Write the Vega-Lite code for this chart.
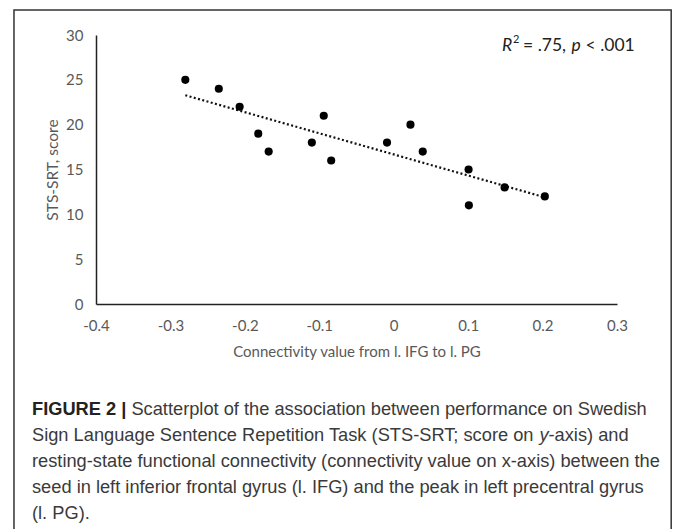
{
  "$schema": "https://vega.github.io/schema/vega-lite/v6.json",
  "width": 521,
  "height": 269,
  "autosize": {"type": "none"},
  "padding": {"left": 96, "top": 35, "right": 56, "bottom": 225},
  "background": "white",
  "config": {"view": {"stroke": null}, "font": "Lato"},
  "datasets": {
    "pts": [
      {"connectivity": -0.280, "score": 25},
      {"connectivity": -0.235, "score": 24},
      {"connectivity": -0.207, "score": 22},
      {"connectivity": -0.182, "score": 19},
      {"connectivity": -0.168, "score": 17},
      {"connectivity": -0.110, "score": 18},
      {"connectivity": -0.094, "score": 21},
      {"connectivity": -0.084, "score": 16},
      {"connectivity": -0.009, "score": 18},
      {"connectivity": 0.0225, "score": 20},
      {"connectivity": 0.039, "score": 17},
      {"connectivity": 0.1006, "score": 15},
      {"connectivity": 0.101, "score": 11},
      {"connectivity": 0.149, "score": 13},
      {"connectivity": 0.203, "score": 12}
    ]
  },
  "layer": [
    {
      "data": {"values": [{}]},
      "mark": {"type": "rect", "fillOpacity": 0, "stroke": "#333333", "strokeWidth": 1.5, "clip": false},
      "encoding": {
        "x": {"datum": -0.5102, "type": "quantitative", "title": "Connectivity value from l. IFG to l. PG"},
        "x2": {"datum": 0.3728},
        "y": {"datum": 32.79, "type": "quantitative", "title": "STS-SRT, score"},
        "y2": {"datum": -30}
      }
    },
    {
      "data": {"name": "pts"},
      "transform": [{"regression": "score", "on": "connectivity"}],
      "mark": {"type": "line", "color": "#111111", "strokeWidth": 2.2, "strokeDash": [2, 2.4]},
      "encoding": {
        "x": {"field": "connectivity", "type": "quantitative", "title": "Connectivity value from l. IFG to l. PG"},
        "y": {"field": "score", "type": "quantitative", "title": "STS-SRT, score"}
      }
    },
    {
      "data": {"name": "pts"},
      "mark": {"type": "circle", "size": 66, "color": "#000000", "opacity": 1},
      "encoding": {
        "x": {
          "field": "connectivity",
          "type": "quantitative",
          "title": "Connectivity value from l. IFG to l. PG",
          "scale": {"domain": [-0.4, 0.3], "nice": false, "zero": false},
          "axis": {
            "values": [-0.4, -0.3, -0.2, -0.1, 0, 0.1, 0.2, 0.3],
            "labelExpr": "toString(round(datum.value*10)/10)",
            "ticks": false,
            "grid": false,
            "domainColor": "#222222",
            "domainWidth": 1.5,
            "labelFont": "Lato",
            "labelFontSize": 15,
            "labelColor": "#595959",
            "labelPadding": 14,
            "labelFlush": false,
            "labelOverlap": false,
            "titleFont": "Lato",
            "titleFontSize": 15,
            "titleFontWeight": "normal",
            "titleColor": "#595959",
            "titlePadding": 11
          }
        },
        "y": {
          "field": "score",
          "type": "quantitative",
          "title": "STS-SRT, score",
          "scale": {"domain": [0, 30], "nice": false},
          "axis": {
            "values": [0, 5, 10, 15, 20, 25, 30],
            "ticks": false,
            "grid": false,
            "domainColor": "#222222",
            "domainWidth": 1.5,
            "labelFont": "Lato",
            "labelFontSize": 15,
            "labelColor": "#595959",
            "labelPadding": 13,
            "labelFlush": false,
            "labelOverlap": false,
            "titleFont": "Lato",
            "titleFontSize": 15.5,
            "titleFontWeight": "normal",
            "titleColor": "#595959",
            "titlePadding": 5
          }
        }
      }
    },
    {
      "data": {"values": [{}]},
      "mark": {"type": "text", "text": "R", "font": "Lato", "fontSize": 17.5, "fontStyle": "italic", "color": "#222222", "align": "left", "baseline": "middle", "dx": 0},
      "encoding": {"x": {"datum": 0.1455, "type": "quantitative"}, "y": {"datum": 28.77, "type": "quantitative"}}
    },
    {
      "data": {"values": [{}]},
      "mark": {"type": "text", "text": "2", "font": "Lato", "fontSize": 11, "color": "#222222", "align": "left", "baseline": "middle", "dx": 11, "dy": -6},
      "encoding": {"x": {"datum": 0.1455, "type": "quantitative"}, "y": {"datum": 28.77, "type": "quantitative"}}
    },
    {
      "data": {"values": [{}]},
      "mark": {"type": "text", "text": "= .75,", "font": "Lato", "fontSize": 17.5, "color": "#222222", "align": "left", "baseline": "middle", "dx": 21},
      "encoding": {"x": {"datum": 0.1455, "type": "quantitative"}, "y": {"datum": 28.77, "type": "quantitative"}}
    },
    {
      "data": {"values": [{}]},
      "mark": {"type": "text", "text": "p", "font": "Lato", "fontSize": 17.5, "fontStyle": "italic", "color": "#222222", "align": "left", "baseline": "middle", "dx": 69.5},
      "encoding": {"x": {"datum": 0.1455, "type": "quantitative"}, "y": {"datum": 28.77, "type": "quantitative"}}
    },
    {
      "data": {"values": [{}]},
      "mark": {"type": "text", "text": "< .001", "font": "Lato", "fontSize": 17.5, "color": "#222222", "align": "left", "baseline": "middle", "dx": 83.5},
      "encoding": {"x": {"datum": 0.1455, "type": "quantitative"}, "y": {"datum": 28.77, "type": "quantitative"}}
    },
    {
      "data": {"values": [{}]},
      "mark": {"type": "text", "text": "FIGURE 2 |", "font": "Liberation Sans", "fontSize": 18.25, "fontWeight": "bold", "color": "#222222", "align": "left", "baseline": "middle"},
      "encoding": {"x": {"datum": -0.486, "type": "quantitative"}, "y": {"datum": -11.82, "type": "quantitative"}}
    },
    {
      "data": {"values": [{}]},
      "mark": {"type": "text", "text": "Scatterplot of the association between performance on Swedish", "font": "Liberation Sans", "fontSize": 18.25, "color": "#3a3a3a", "align": "left", "baseline": "middle", "dx": 99.4},
      "encoding": {"x": {"datum": -0.486, "type": "quantitative"}, "y": {"datum": -11.82, "type": "quantitative"}}
    },
    {
      "data": {"values": [{}]},
      "mark": {"type": "text", "text": "Sign Language Sentence Repetition Task (STS-SRT; score on", "font": "Liberation Sans", "fontSize": 18.25, "color": "#3a3a3a", "align": "left", "baseline": "middle"},
      "encoding": {"x": {"datum": -0.486, "type": "quantitative"}, "y": {"datum": -14.72, "type": "quantitative"}}
    },
    {
      "data": {"values": [{}]},
      "mark": {"type": "text", "text": "y", "font": "Liberation Sans", "fontSize": 18.25, "fontStyle": "italic", "color": "#3a3a3a", "align": "left", "baseline": "middle", "dx": 507.5},
      "encoding": {"x": {"datum": -0.486, "type": "quantitative"}, "y": {"datum": -14.72, "type": "quantitative"}}
    },
    {
      "data": {"values": [{}]},
      "mark": {"type": "text", "text": "-axis) and", "font": "Liberation Sans", "fontSize": 18.25, "color": "#3a3a3a", "align": "left", "baseline": "middle", "dx": 516.5},
      "encoding": {"x": {"datum": -0.486, "type": "quantitative"}, "y": {"datum": -14.72, "type": "quantitative"}}
    },
    {
      "data": {"values": [{}]},
      "mark": {
        "type": "text",
        "text": [
          "resting-state functional connectivity (connectivity value on x-axis) between the",
          "seed in left inferior frontal gyrus (l. IFG) and the peak in left precentral gyrus",
          "(l. PG)."
        ],
        "font": "Liberation Sans",
        "fontSize": 18.25,
        "lineHeight": 26,
        "color": "#3a3a3a",
        "align": "left",
        "baseline": "middle"
      },
      "encoding": {"x": {"datum": -0.486, "type": "quantitative"}, "y": {"datum": -17.62, "type": "quantitative"}}
    }
  ]
}
